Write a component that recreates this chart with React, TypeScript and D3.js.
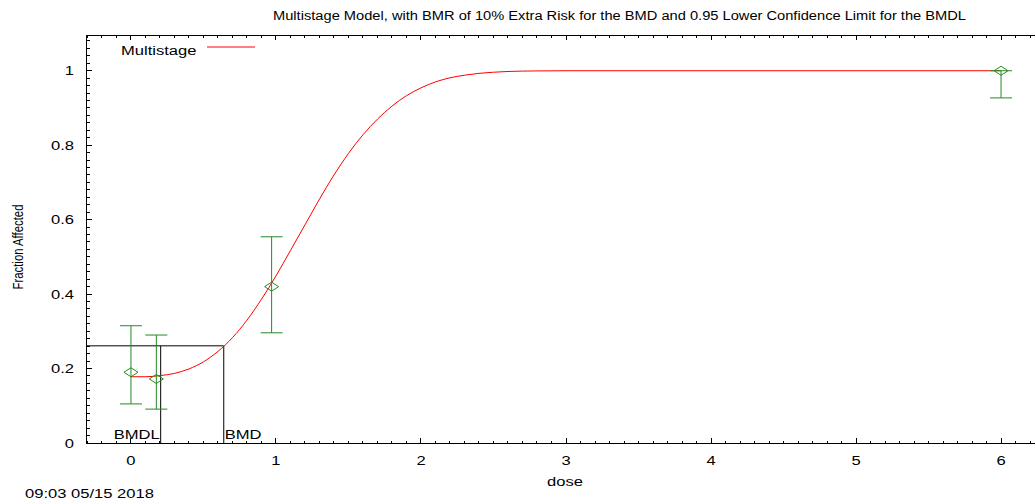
import React from "react";
import * as d3 from "d3";

const doses = [0, 0.175, 0.97, 6.0];
const means = [0.19, 0.172, 0.42, 1.0];
const lowerCL = [0.105, 0.091, 0.296, 0.927];
const upperCL = [0.315, 0.29, 0.554, 1.0];

const curveDose = [0, 0.1, 0.2, 0.3, 0.4, 0.5, 0.6, 0.7, 0.8, 0.9, 1.0, 1.1, 1.2, 1.3, 1.4, 1.5, 1.6, 1.7, 1.8, 1.9, 2.0, 2.1, 2.2, 2.3, 2.4, 2.5, 2.6, 2.8, 3.0, 4.0, 5.0, 6.0];
const curveFrac = [0.178, 0.178, 0.181, 0.187, 0.199, 0.218, 0.246, 0.283, 0.33, 0.386, 0.449, 0.517, 0.586, 0.655, 0.72, 0.778, 0.828, 0.87, 0.905, 0.933, 0.954, 0.97, 0.981, 0.988, 0.993, 0.996, 0.998, 0.9995, 1.0, 1.0, 1.0, 1.0];

const bmd = 0.64;
const bmdl = 0.205;
const bmrLevel = 0.261;

const xTicks = [0, 1, 2, 3, 4, 5, 6];
const yTicks = [0, 0.2, 0.4, 0.6, 0.8, 1];
const yTickLabels = ["0", "0.2", "0.4", "0.6", "0.8", "1"];

const titleText = "Multistage Model, with BMR of 10% Extra Risk for the BMD and 0.95 Lower Confidence Limit for the BMDL";
const legendLabel = "Multistage";
const xLabel = "dose";
const yLabel = "Fraction Affected";
const stamp = "09:03 05/15 2018";

const FONT = "'Liberation Sans', Arial, Helvetica, sans-serif";
const SX = 1.38;
const GREEN = "#228B22";

function T({ x, y, anchor = "start", children, size = 12 }: any) {
  return (
    <g transform={`translate(${x},${y}) scale(${SX},1)`}>
      <text x={0} y={0} textAnchor={anchor} fontFamily={FONT} fontSize={size} fill="#000">
        {children}
      </text>
    </g>
  );
}

export default function App() {
  const L = 86, R = 1046, B = 443, TOP = 35;
  const x = d3.scaleLinear().domain([-0.31, 6.31]).range([L, R]);
  const y = d3.scaleLinear().domain([0, 1.096]).range([B, TOP]);

  const xMinor = d3.range(-3, 64).map((i) => i / 10);
  const yMinor = d3.range(0, 55).map((i) => i / 50);

  const line = d3
    .line<number>()
    .x((_, i) => x(curveDose[i]))
    .y((d) => y(d))
    .curve(d3.curveMonotoneX);

  const diamond = (cx: number, cy: number) =>
    `M${cx - 7},${cy} L${cx},${cy - 4.5} L${cx + 7},${cy} L${cx},${cy + 4.5} Z`;

  return (
    <svg width={1035} height={502} style={{ position: "absolute", left: 0, top: 0, background: "#fff" }}>
      <rect x={0} y={0} width={1035} height={502} fill="#fff" />
      {/* frame */}
      <g stroke="#000" strokeWidth={1} shapeRendering="crispEdges" fill="none">
        <line x1={L} y1={B} x2={R} y2={B} />
        <line x1={L} y1={TOP} x2={R} y2={TOP} />
        <line x1={L} y1={TOP} x2={L} y2={B} />
        <line x1={R} y1={TOP} x2={R} y2={B} />
        {xMinor.map((v, i) => {
          const major = Math.abs(v - Math.round(v)) < 1e-6;
          const len = major ? 5 : 2.5;
          return (
            <g key={"xm" + i}>
              <line x1={x(v)} x2={x(v)} y1={B} y2={B - len} />
              <line x1={x(v)} x2={x(v)} y1={TOP} y2={TOP + len} />
            </g>
          );
        })}
        {yMinor.map((v, i) => {
          const major = Math.abs(v * 5 - Math.round(v * 5)) < 1e-6;
          const len = major ? 6 : 3.5;
          return (
            <g key={"ym" + i}>
              <line x1={L} x2={L + len} y1={y(v)} y2={y(v)} />
              <line x1={R} x2={R - len} y1={y(v)} y2={y(v)} />
            </g>
          );
        })}
      </g>
      {/* tick labels */}
      {xTicks.map((v) => (
        <T key={"xt" + v} x={x(v)} y={465} anchor="middle">
          {String(v)}
        </T>
      ))}
      {yTicks.map((v, i) => (
        <T key={"yt" + v} x={74} y={y(v) + 4.5} anchor="end">
          {yTickLabels[i]}
        </T>
      ))}
      {/* axis labels */}
      <T x={565} y={486} anchor="middle">{xLabel}</T>
      <text
        transform={`translate(23,247) rotate(-90)`}
        textAnchor="middle"
        fontFamily={FONT}
        fontSize={15}
        textLength={85}
        lengthAdjust="spacingAndGlyphs"
      >
        {yLabel}
      </text>
      {/* title */}
      <text x={273} y={20} fontFamily={FONT} fontSize={12} textLength={693} lengthAdjust="spacingAndGlyphs">
        {titleText}
      </text>
      <T x={25} y={498}>{stamp}</T>
      {/* legend */}
      <T x={121} y={55}>{legendLabel}</T>
      <line x1={207} x2={255} y1={47} y2={47} stroke="red" strokeWidth={1} />
      {/* BMD lines */}
      <g stroke="#000" strokeWidth={1} fill="none">
        <line x1={L} x2={x(bmd)} y1={y(bmrLevel)} y2={y(bmrLevel)} />
        <line x1={x(bmd)} x2={x(bmd)} y1={y(bmrLevel)} y2={B} />
        <line x1={x(bmdl)} x2={x(bmdl)} y1={y(bmrLevel)} y2={B} />
      </g>
      <T x={x(bmdl) - 1} y={439} anchor="end">BMDL</T>
      <T x={x(bmd) + 1} y={439}>BMD</T>
      {/* model curve */}
      <path d={line(curveFrac) || ""} fill="none" stroke="red" strokeWidth={1} />
      {/* data with error bars */}
      <g stroke={GREEN} strokeWidth={1} fill="none">
        {doses.map((d, i) => {
          const cx = x(d);
          return (
            <g key={"p" + i}>
              <line x1={cx} x2={cx} y1={y(lowerCL[i])} y2={y(upperCL[i])} />
              <line x1={cx - 11} x2={cx + 11} y1={y(lowerCL[i])} y2={y(lowerCL[i])} />
              <line x1={cx - 11} x2={cx + 11} y1={y(upperCL[i])} y2={y(upperCL[i])} />
              <path d={diamond(cx, y(means[i]))} />
            </g>
          );
        })}
      </g>
    </svg>
  );
}
